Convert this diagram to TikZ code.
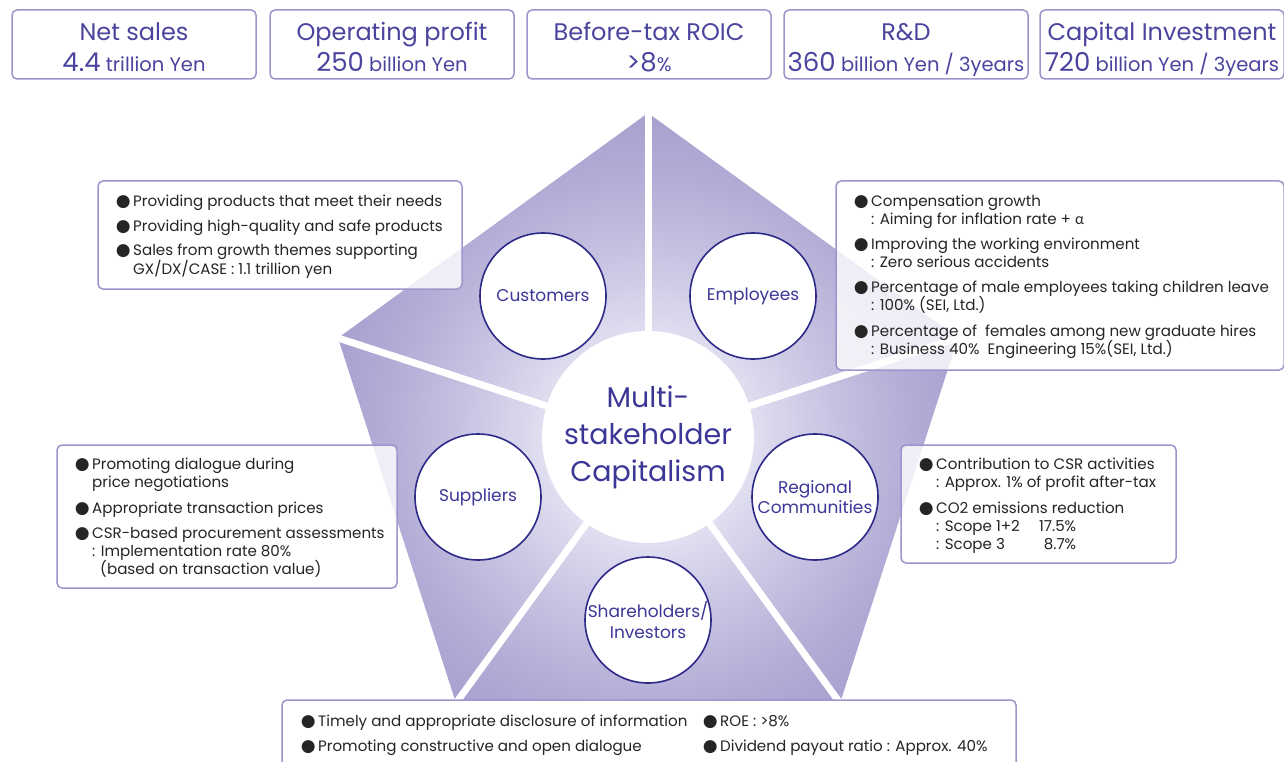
\documentclass[tikz,border=0pt]{standalone}
\usepackage{fontspec}
\setmainfont{Poppins}
\newfontfamily\dejavu{DejaVu Sans}
\newfontfamily\greekfont{Lato}
\definecolor{boxline}{HTML}{9D95CB}
\definecolor{navy}{HTML}{2E2A87}
\definecolor{labelc}{HTML}{3C3796}
\definecolor{toptext}{HTML}{4B449E}
\definecolor{bodytext}{HTML}{262424}
\definecolor{pdark}{HTML}{A7A0CF}
\definecolor{pmid2}{HTML}{B3ACD6}
\definecolor{pmid}{HTML}{C8C3E2}
\definecolor{plight}{HTML}{E0DEF0}
\pgfdeclareradialshading{pentshade}{\pgfpoint{0bp}{0bp}}{color(0bp)=(plight); color(8bp)=(plight); color(14bp)=(pmid); color(20bp)=(pmid2); color(25bp)=(pdark); color(50bp)=(pdark)}
\newcommand\bul{\llap{{\dejavu\fontsize{17}{17}\selectfont ●}\hspace{2.5pt}}}
\newcommand\bignum[1]{{\fontsize{26}{30}\selectfont #1}}
\begin{document}
\begin{tikzpicture}[x=1pt,y=-1pt,
  topbox/.style={draw=boxline, line width=1.5pt, rounded corners=5pt, minimum width=244pt, minimum height=69pt, inner sep=0pt},
  toptitle/.style={text=toptext, font=\fontsize{24}{28}\selectfont, inner sep=0pt, anchor=base},
  topval/.style={text=toptext, font=\fontsize{19.5}{22}\selectfont, inner sep=0pt, anchor=base},
  infobox/.style={draw=boxline, line width=1.5pt, rounded corners=5pt, fill=white, fill opacity=0.8, inner sep=0pt},
  body/.style={text=bodytext, font=\fontsize{15.1}{18}\selectfont, inner sep=0pt, anchor=base west},
  stake/.style={circle, draw=navy, line width=1.6pt, fill=white, minimum size=126pt, inner sep=0pt, text=labelc, font=\fontsize{17}{20.5}\selectfont, align=center},
  gap/.style={draw=white, line width=7pt}]
\useasboundingbox (0,0) rectangle (1284,762);
\fill[white] (0,0) rectangle (1284,762);

% top boxes
\node[topbox] (b1) at (134,44.5) {};
\node[topbox] (b2) at (392,44.5) {};
\node[topbox] (b3) at (649,44.5) {};
\node[topbox] (b4) at (906,44.5) {};
\node[topbox] (b5) at (1162,44.5) {};
\node[toptitle] (b1a) at (134,41) {Net sales};
\node[topval] (b1b) at (134,71.5) {\bignum{4.4} trillion Yen};
\node[toptitle] (b2a) at (392,41) {Operating profit};
\node[topval] (b2b) at (392,71.5) {\bignum{250} billion Yen};
\node[toptitle] (b3a) at (649,41) {Before-tax ROIC};
\node[topval] (b3b) at (649,71.5) {\bignum{>8}\%};
\node[toptitle] (b4a) at (906,41) {R\&D};
\node[topval] (b4b) at (906,71.5) {\bignum{360} billion Yen / 3years};
\node[toptitle] (b5a) at (1162,41) {Capital Investment};
\node[topval] (b5b) at (1162,71.5) {\bignum{720} billion Yen / 3years};

% pentagon
\coordinate (O) at (648,439);
\coordinate (P1) at (648,113);
\coordinate (P2) at (338,338);
\coordinate (P3) at (456,703);
\coordinate (P4) at (840,703);
\coordinate (P5) at (958,338);
\begin{scope}
\clip (P1) -- (P2) -- (P3) -- (P4) -- (P5) -- cycle;
\shade[shading=pentshade] (O) circle (330pt);
\end{scope}
\foreach \p in {P1,P2,P3,P4,P5} \draw[gap] (O) -- (\p);

\node[circle, fill=white, minimum size=212pt, inner sep=0pt, text=labelc, font=\fontsize{28.5}{37}\selectfont, align=center] (msc) at (648,437) {Multi-\\stakeholder\\Capitalism};

\node[stake] (cust) at (543,296) {Customers};
\node[stake] (empl) at (753,296) {Employees};
\node[stake] (supp) at (478,497) {Suppliers};
\node[stake] (regi) at (815,497) {Regional\\Communities};
\node[stake] (shar) at (648,620) {Shareholders/\\Investors};

% info boxes
\node[infobox, minimum width=364pt, minimum height=108pt] (cbox) at (280,235) {};
\node[body] (c1) at (133,206.5) {\bul Providing products that meet their needs};
\node[body] (c2) at (133,231.5) {\bul Providing high-quality and safe products};
\node[body] (c3) at (133,255.5) {\bul Sales from growth themes supporting};
\node[body] (c4) at (133,274.5) {GX/DX/CASE : 1.1 trillion yen};

\node[infobox, minimum width=448pt, minimum height=189pt] (ebox) at (1060,275.5) {};
\node[body] (e1) at (871,206.5) {\bul Compensation growth};
\node[body] (e2) at (871,224.5) {: Aiming for inflation rate + {\greekfont α}};
\node[body] (e3) at (871,249.5) {\bul Improving the working environment};
\node[body] (e4) at (871,267.5) {: Zero serious accidents};
\node[body] (e5) at (871,292.5) {\bul Percentage of male employees taking children leave};
\node[body] (e6) at (871,310.5) {: 100\% (SEI, Ltd.)};
\node[body] (e7) at (871,336.5) {\bul Percentage of\ \ females among new graduate hires};
\node[body] (e8) at (871,354.5) {: Business 40\%\ \ Engineering 15\%(SEI, Ltd.)};

\node[infobox, minimum width=340pt, minimum height=143pt] (sbox) at (227,516.5) {};
\node[body] (s1) at (92,469.5) {\bul Promoting dialogue during};
\node[body] (s2) at (92,487.5) {price negotiations};
\node[body] (s3) at (92,513.5) {\bul Appropriate transaction prices};
\node[body] (s4) at (92,538.5) {\bul CSR-based procurement assessments};
\node[body] (s5) at (92,556.5) {: Implementation rate 80\%};
\node[body] (s6) at (92,574.5) {\hspace{8pt}(based on transaction value)};

\node[infobox, minimum width=275pt, minimum height=118pt] (rbox) at (1038.5,504) {};
\node[body] (r1) at (936,469.5) {\bul Contribution to CSR activities};
\node[body] (r2) at (936,487.5) {: Approx. 1\% of profit after-tax};
\node[body] (r3) at (936,513.5) {\bul CO2 emissions reduction};
\node[body] (r4) at (936,531.5) {\makebox[98pt][l]{: Scope 1+2}\makebox[42pt][r]{17.5\%}};
\node[body] (r5) at (936,549.5) {\makebox[98pt][l]{: Scope 3}\makebox[42pt][r]{8.7\%}};

\node[infobox, fill opacity=1, minimum width=734pt, minimum height=100pt] (hbox) at (649,750) {};
\node[body] (h1) at (318,726.5) {\bul Timely and appropriate disclosure of information};
\node[body] (h2) at (318,751.5) {\bul Promoting constructive and open dialogue};
\node[body] (h3) at (720,726.5) {\bul ROE : >8\%};
\node[body] (h4) at (720,751.5) {\bul Dividend payout ratio : Approx. 40\%};
\end{tikzpicture}
\end{document}
